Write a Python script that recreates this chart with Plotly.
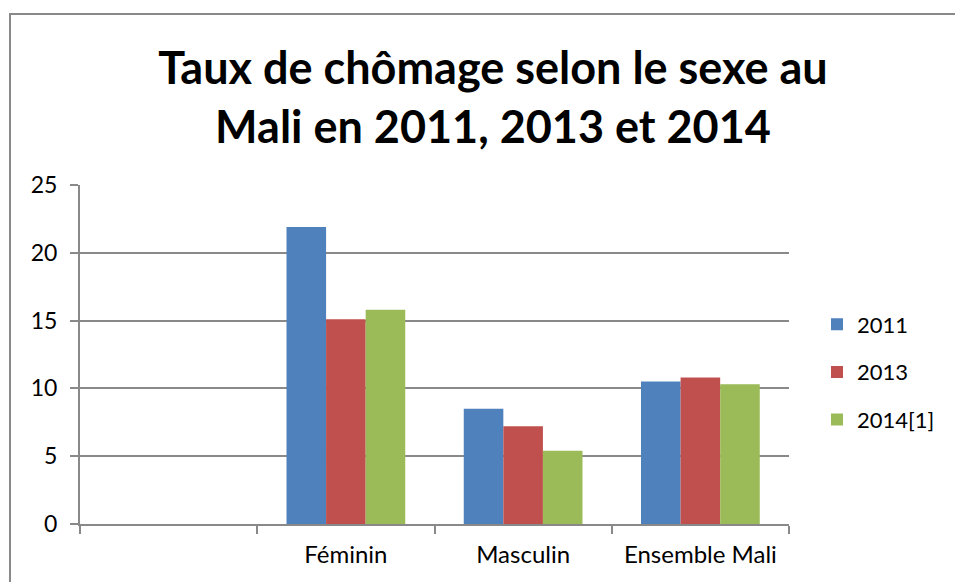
import plotly.graph_objects as go

categories = [" ", "Féminin", "Masculin", "Ensemble Mali"]
series_names = ["2011", "2013", "2014[1]"]
values_2011 = [None, 21.9, 8.5, 10.5]
values_2013 = [None, 15.1, 7.2, 10.8]
values_2014 = [None, 15.8, 5.4, 10.3]
colors = ["#4F81BD", "#C0504D", "#9BBB59"]
y_ticks = [0, 5, 10, 15, 20, 25]

FONT = "Lato"
W, H = 955, 582
L, R, T, B = 80, 166, 185, 58
pw, ph = W - L - R, H - T - B

fig = go.Figure()
for name, vals, c in zip(series_names, [values_2011, values_2013, values_2014], colors):
    fig.add_trace(go.Bar(x=categories, y=vals, name=name, legendgroup=name,
                         marker=dict(color=c, line=dict(width=0))))

def px_x(x):
    return (x - L) / pw

def px_y(y):
    return (H - B - y) / ph

line_style = dict(color="#898989", width=2)
fig.add_shape(type="line", xref="paper", yref="paper", x0=px_x(10), x1=px_x(10), y0=px_y(14), y1=px_y(590), line=line_style)
fig.add_shape(type="line", xref="paper", yref="paper", x0=px_x(9), x1=px_x(960), y0=px_y(14), y1=px_y(14), line=line_style)

fig.update_layout(
    width=W, height=H,
    margin=dict(l=L, r=R, t=T, b=B),
    paper_bgcolor="white", plot_bgcolor="white",
    barmode="group", bargap=0.33, bargroupgap=0,
    font=dict(family=FONT, color="#000000", size=23),
    title=dict(text="<b>Taux de chômage selon le sexe au<br>Mali en 2011, 2013 et 2014</b>",
               x=493 / W, xanchor="center", y=1 - 84 / H, yanchor="middle",
               font=dict(family=FONT, size=45, color="#000000")),
    legend=dict(x=px_x(817), xanchor="left", y=px_y(372), yanchor="middle",
                font=dict(family=FONT, size=22), itemwidth=30, tracegroupgap=16,
                bgcolor="rgba(0,0,0,0)"),
    xaxis=dict(type="category", categoryorder="array", categoryarray=categories,
               showline=True, linecolor="#898989", linewidth=2,
               ticks="outside", tickson="boundaries", ticklen=8, tickcolor="#898989", tickwidth=2,
               ticklabelstandoff=8,
               tickfont=dict(family=FONT, size=24), showgrid=False),
    yaxis=dict(range=[0, 25], tickvals=y_ticks, showline=True, linecolor="#898989", linewidth=2,
               ticks="outside", ticklen=8, tickcolor="#898989", tickwidth=2,
               ticklabelstandoff=8,
               gridcolor="#898989", gridwidth=2, zeroline=False,
               tickfont=dict(family=FONT, size=23)),
)

fig.write_html("out.html", config={"displayModeBar": False},
               post_script="document.body.style.margin='0';document.body.style.padding='0';")
